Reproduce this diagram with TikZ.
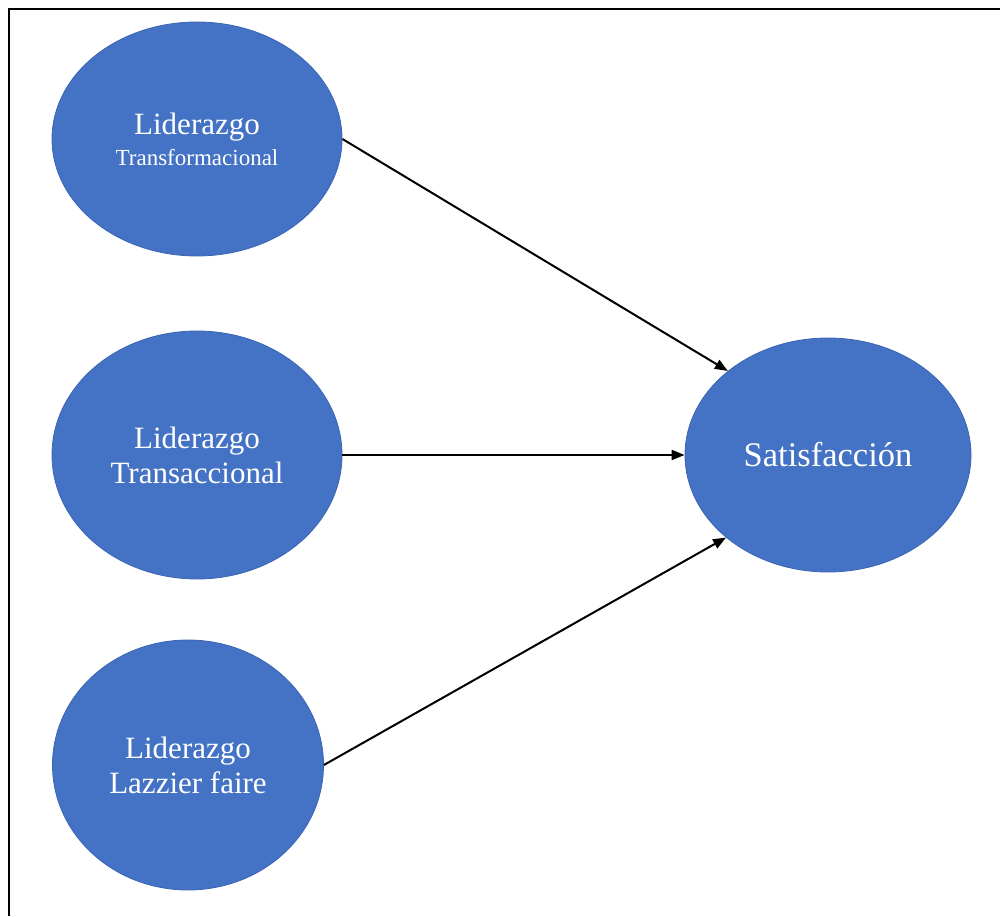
\documentclass[tikz,border=0pt]{standalone}
\usepackage{fontspec}
\setmainfont{Liberation Serif}
\usetikzlibrary{shapes.geometric,arrows.meta,positioning}
\definecolor{varblue}{HTML}{4472C4}
\definecolor{varedge}{HTML}{3B65B3}

\begin{document}
\begin{tikzpicture}[x=1pt, y=1pt,
  var/.style={ellipse, draw=varedge, line width=0.8pt, fill=varblue, inner sep=0pt,
              text=white, align=center, font=\fontsize{31}{35}\selectfont},
  arr/.style={-{Triangle[length=13pt,width=10pt]}, line width=2pt, black},
  frame/.style={line width=1.6pt, black}
]
\useasboundingbox (0,0) rectangle (1000,916);
\draw[frame] (9,0) -- (9,907) -- (1000,907);
\node[var, minimum width=290, minimum height=234] (trf) at (197,777)
  {Liderazgo\\[-4pt]{\fontsize{23}{26}\selectfont Transformacional}};
\node[var, minimum width=290, minimum height=248] (trc) at (197,461)
  {Liderazgo\\Transaccional};
\node[var, minimum width=271, minimum height=250] (lzf) at (188,151)
  {Liderazgo\\Lazzier faire};
\node[var, minimum width=286, minimum height=234,
      font=\fontsize{34.5}{38}\selectfont] (sat) at (828,461) {Satisfacción};
\draw[arr] (trf.east) -- (sat.140);
\draw[arr] (trc.east) -- (sat.west);
\draw[arr] (lzf.east) -- (sat.219);
\end{tikzpicture}
\end{document}
